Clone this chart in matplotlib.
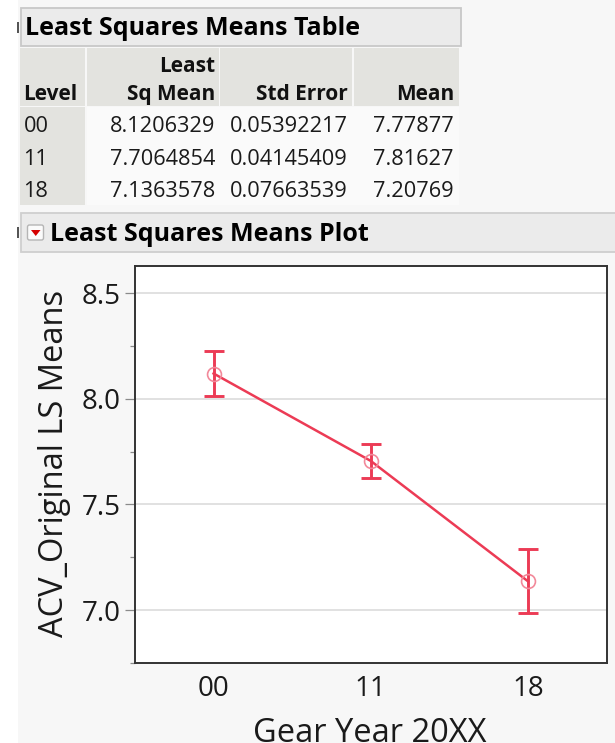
import numpy as np
import matplotlib.pyplot as plt
from matplotlib.patches import Rectangle, Polygon, FancyBboxPatch

plt.rcParams['font.family'] = ['Open Sans', 'DejaVu Sans']

# data from the JMP report
levels = ['00', '11', '18']
ls_mean = [8.1206329, 7.7064854, 7.1363578]
std_err = [0.05392217, 0.04145409, 0.07663539]
raw_mean = [7.77877, 7.81627, 7.20769]
y_ticks = [7.0, 7.5, 8.0, 8.5]
y_minor = [6.75, 7.25, 7.75, 8.25]
t_crit = 1.965

W, H = 615, 743
fig = plt.figure(figsize=(W / 100, H / 100), dpi=100, facecolor='white')

# pixel-space canvas for the report chrome (boxes, table)
bg = fig.add_axes([0, 0, 1, 1])
bg.set_xlim(0, W)
bg.set_ylim(H, 0)
bg.axis('off')


def px_axes(x0, y0, x1, y1):
    return fig.add_axes([x0 / W, 1 - y1 / H, (x1 - x0) / W, (y1 - y0) / H])


bg.add_patch(Rectangle((18, 0), W - 18, H, fc='#f7f7f7', ec='none'))

# --- table section ---
bg.add_patch(Rectangle((20.5, 7.5), 440, 38, fc='#ebebeb', ec='#c8c8c8', lw=1.3))
bg.add_patch(Rectangle((16.5, 22), 2.5, 11, fc='#555555', ec='none'))
bg.text(25, 35, 'Least Squares Means Table', fontsize=18, fontweight='bold',
        color='black', va='baseline', ha='left')

cell_x = [(20, 85), (87, 218.5), (220, 352), (354, 459)]
for x0, x1 in cell_x:
    bg.add_patch(Rectangle((x0, 48), x1 - x0, 58, fc='#e3e3df', ec='none'))
bg.add_patch(Rectangle((20, 107), 65, 98, fc='#e3e3df', ec='none'))
bg.add_patch(Rectangle((87, 107), 372, 98, fc='#fafafa', ec='none'))

hdr = dict(fontsize=15, fontweight='bold', color='#111111', va='baseline')
bg.text(23.5, 100, 'Level', ha='left', **hdr)
bg.text(215, 72, 'Least', ha='right', **hdr)
bg.text(215, 100, 'Sq Mean', ha='right', **hdr)
bg.text(348, 100, 'Std Error', ha='right', **hdr)
bg.text(454, 100, 'Mean', ha='right', **hdr)

row_y = [131.7, 164.8, 197.3]
cell = dict(fontsize=15.7, color='#1a1a1a', va='baseline')
for i, lv in enumerate(levels):
    bg.text(23.5, row_y[i], lv, ha='left', **cell)
    bg.text(215, row_y[i], f'{ls_mean[i]:.7f}', ha='right', **cell)
    bg.text(348, row_y[i], f'{std_err[i]:.8f}', ha='right', **cell)
    bg.text(454, row_y[i], f'{raw_mean[i]:.5f}', ha='right', **cell)

# --- plot section header ---
bg.add_patch(Rectangle((20.5, 213), 620, 38.5, fc='#ebebeb', ec='#cfcfcf', lw=1.3))
bg.add_patch(Rectangle((16.5, 227), 2.5, 11, fc='#555555', ec='none'))
bg.add_patch(FancyBboxPatch((27.5, 225), 16, 15, boxstyle='round,pad=0,rounding_size=2',
                            fc='#fbfbfb', ec='#b5b5b5', lw=1))
bg.add_patch(Polygon([(31, 230), (40.5, 230), (35.75, 236)], closed=True,
                     fc='#d40000', ec='none'))
bg.text(50, 241, 'Least Squares Means Plot', fontsize=18, fontweight='bold',
        color='black', va='baseline', ha='left')

# --- LS means plot ---
ax = px_axes(135, 266, 606.5, 663)
ax.set_facecolor('white')
x = np.arange(len(levels))
ci = t_crit * np.array(std_err)
red = '#ec3b55'

ax.plot(x, ls_mean, color=red, lw=1.8, zorder=3)
ax.errorbar(x, ls_mean, yerr=ci, fmt='none', ecolor=red, elinewidth=2.1,
            capsize=7.2, capthick=2.1, zorder=4)
ax.plot(x, ls_mean, 'o', ms=10, mfc='none', mec='#f2899a', mew=1.2, zorder=5)

ax.set_xlim(-0.5, 2.5)
ax.set_ylim(6.749, 8.630)
ax.set_xticks(x)
ax.set_xticklabels(levels)
ax.set_yticks(y_ticks)
ax.set_yticklabels([f'{v:.1f}' for v in y_ticks])
ax.set_yticks(y_minor, minor=True)
ax.grid(axis='y', which='major', color='#dcdcdc', lw=1.2, zorder=0)
ax.set_axisbelow(True)

ax.tick_params(axis='x', length=0, pad=9, labelsize=20, labelcolor='#1a1a1a')
ax.tick_params(axis='y', which='major', length=7.2, width=0.9, color='#8a8a8a',
               pad=3, labelsize=20, labelcolor='#1a1a1a')
ax.tick_params(axis='y', which='minor', length=3.6, width=0.9, color='#8a8a8a')
for s in ax.spines.values():
    s.set_color('#333333')
    s.set_linewidth(1.4)

ax.set_xlabel('Gear Year 20XX', fontsize=23.5, color='#1a1a1a')
ax.xaxis.set_label_coords(370, 741.5, transform=bg.transData)
ax.xaxis.label.set_va('baseline')
ax.set_ylabel('ACV_Original LS Means', fontsize=23.5, color='#1a1a1a')
ax.yaxis.set_label_coords(63.3, 463, transform=bg.transData)
ax.yaxis.label.set_va('baseline')

fig.savefig('out.png', dpi=100, facecolor=fig.get_facecolor())
